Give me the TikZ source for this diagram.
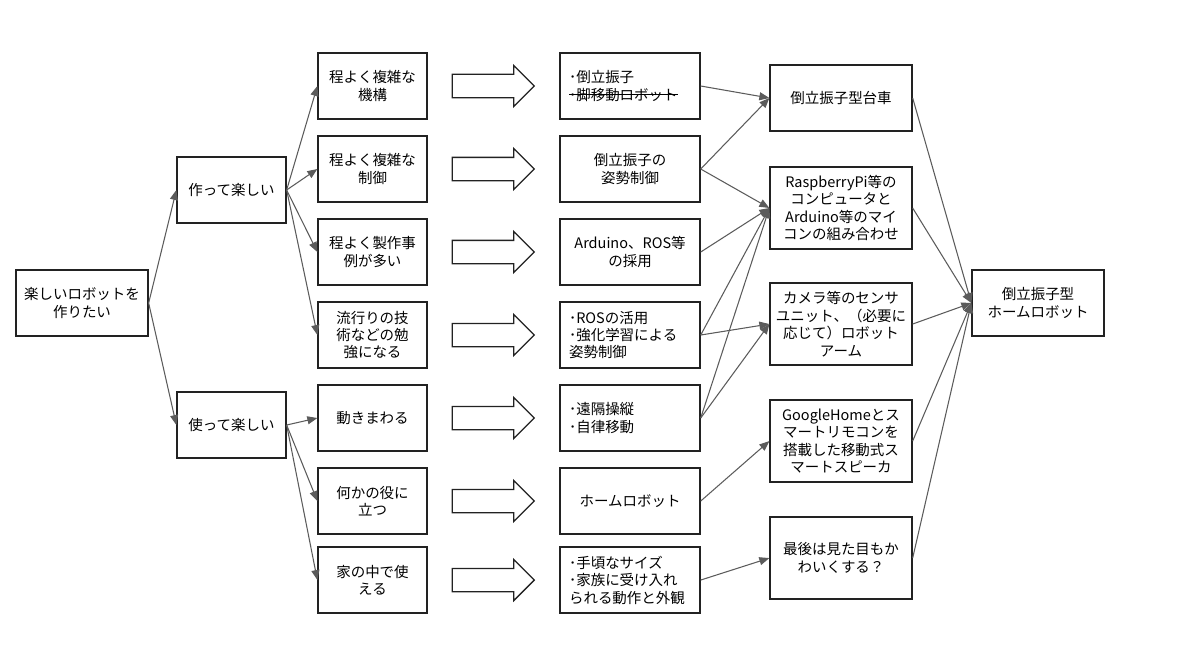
\documentclass[tikz,border=0pt]{standalone}
\usepackage{fontspec}
\setmainfont{Noto Sans CJK JP}
\usepackage{xcolor}
\usepackage{tikz}
\usetikzlibrary{positioning, calc, arrows.meta, shapes.arrows}
\definecolor{inkline}{HTML}{222222}
\definecolor{linkgray}{HTML}{5B5B5B}
\newsavebox{\strikebox}
\newcommand{\strikeline}[1]{\leavevmode\sbox{\strikebox}{#1}\rlap{\rule[0.36em]{\wd\strikebox}{0.7pt}}\usebox{\strikebox}}

\begin{document}
\begin{tikzpicture}[x=0.025cm, y=-0.025cm, >={Triangle[length=0.25cm, width=0.2cm]},
  box/.style={draw=inkline, line width=0.9pt, rectangle, align=center, inner sep=0pt, minimum height=1.65cm, font=\fontsize{10.3pt}{12.4pt}\selectfont},
  wish/.style={box, minimum width=3.3cm},
  need/.style={box, minimum width=2.725cm},
  idea/.style={box, text width=3.05cm, inner xsep=0.225cm},
  plan/.style={box, minimum width=3.55cm, minimum height=2.05cm},
  link/.style={->, draw=linkgray, line width=0.75pt},
  fatarrow/.style={single arrow, anchor=tail, draw=inkline, line width=0.9pt, fill=white, minimum height=2.05cm, minimum width=1cm, single arrow head extend=0.225cm, inner xsep=0pt, inner ysep=0.275cm}]
\useasboundingbox (0,0) rectangle (1200,651);
\node[wish] (want) at (82,303) {楽しいロボットを\\作りたい};
\node[need] (build) at (231.5,190) {作って楽しい};
\node[need] (use) at (231.5,425) {使って楽しい};

\node[need] (mech) at (372.5,86) {程よく複雑な\\機構};
\node[need, below=0.393cm of mech] (ctrl) {程よく複雑な\\制御};
\node[need, below=0.393cm of ctrl] (cases) {程よく製作事\\例が多い};
\node[need, below=0.393cm of cases] (trend) {流行りの技\\術などの勉\\強になる};
\node[need, below=0.393cm of trend] (move) {動きまわる};
\node[need, below=0.393cm of move] (useful) {何かの役に\\立つ};
\node[need, below=0.293cm of useful] (home) {家の中で使\\える};

\node[idea, align=left, right=3.293cm of mech] (pend) {･倒立振子\\\strikeline{･脚移動ロボット}};
\node[idea, right=3.293cm of ctrl] (pose) {倒立振子の\\姿勢制御};
\node[idea, right=3.293cm of cases] (arduino) {Arduino、ROS等\\の採用};
\node[idea, align=left, right=3.293cm of trend] (ros) {･ROSの活用\\･強化学習による\\姿勢制御};
\node[idea, align=left, right=3.293cm of move] (drive) {･遠隔操縦\\･自律移動};
\node[idea, right=3.293cm of useful] (homebot) {ホームロボット};
\node[idea, align=left, right=3.293cm of home] (size) {･手頃なサイズ\\･家族に受け入れ\\られる動作と外観};

\node[fatarrow] (fat1) at ($(mech.east)+(24,0)$) {};
\node[fatarrow] (fat2) at ($(ctrl.east)+(24,0)$) {};
\node[fatarrow] (fat3) at ($(cases.east)+(24,0)$) {};
\node[fatarrow] (fat4) at ($(trend.east)+(24,0)$) {};
\node[fatarrow] (fat5) at ($(move.east)+(24,0)$) {};
\node[fatarrow] (fat6) at ($(useful.east)+(24,0)$) {};
\node[fatarrow] (fat7) at ($(home.east)+(24,0)$) {};

\node[plan, minimum height=1.65cm] (cart) at (841,98) {倒立振子型台車};
\node[plan, below=0.868cm of cart] (board) {RaspberryPi等の\\コンピュータと\\Arduino等のマイ\\コンの組み合わせ};
\node[plan, below=0.818cm of board] (sensor) {カメラ等のセンサ\\ユニット、（必要に\\応じて）ロボット\\アーム};
\node[plan, below=0.843cm of sensor] (speaker) {GoogleHomeとス\\マートリモコンを\\搭載した移動式ス\\マートスピーカ};
\node[plan, below=0.843cm of speaker] (cute) {最後は見た目もか\\わいくする？};

\node[wish] (robot) at (1038,303) {倒立振子型\\ホームロボット};

\draw[link] (want.east) -- (build.west);
\draw[link] (want.east) -- (use.west);
\draw[link] (build.east) -- (mech.west);
\draw[link] (build.east) -- (ctrl.west);
\draw[link] (build.east) -- (cases.west);
\draw[link] (build.east) -- (trend.west);
\draw[link] (use.east) -- (move.west);
\draw[link] (use.east) -- (useful.west);
\draw[link] (use.east) -- (home.west);

\draw[link] (pend.east) -- (cart.west);
\draw[link] (pose.east) -- (cart.west);
\draw[link] (pose.east) -- (board.west);
\draw[link] (arduino.east) -- (board.west);
\draw[link] (ros.east) -- (board.west);
\draw[link] (ros.east) -- (sensor.west);
\draw[link] (drive.east) -- (board.west);
\draw[link] (drive.east) -- (sensor.west);
\draw[link] (homebot.east) -- (speaker.west);
\draw[link] (size.east) -- (cute.west);

\draw[link] (cart.east) -- (robot.west);
\draw[link] (board.east) -- (robot.west);
\draw[link] (sensor.east) -- (robot.west);
\draw[link] (speaker.east) -- (robot.west);
\draw[link] (cute.east) -- (robot.west);
\end{tikzpicture}
\end{document}
